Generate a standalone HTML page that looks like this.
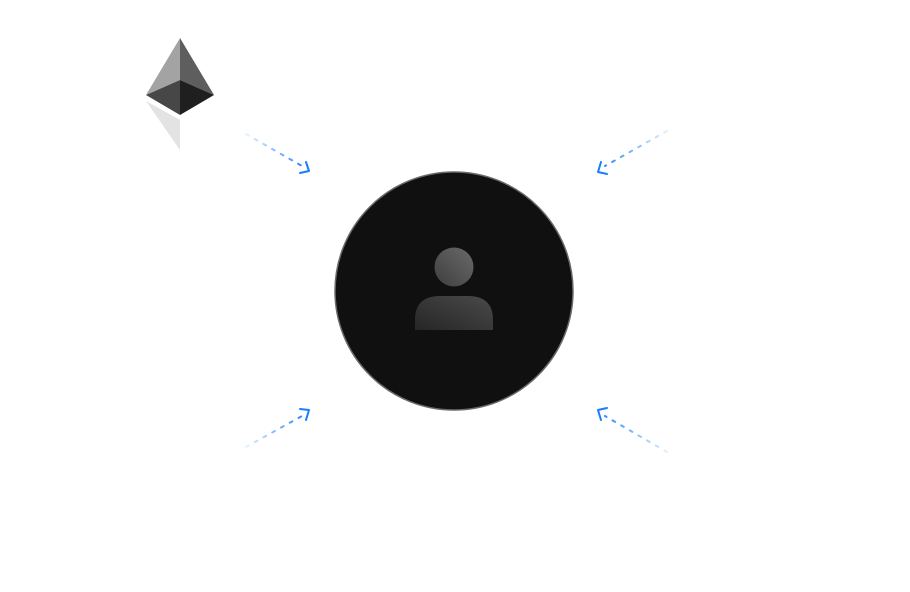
<!DOCTYPE html>
<html><head><meta charset="utf-8"><style>html,body{margin:0;padding:0;background:#fff;width:910px;height:592px;overflow:hidden}</style></head>
<body>
<svg width="910" height="592" viewBox="0 0 910 592" xmlns="http://www.w3.org/2000/svg">
<defs>
<linearGradient id="a1" x1="246" y1="134" x2="308" y2="170" gradientUnits="userSpaceOnUse"><stop offset="0" stop-color="#1a7cff" stop-opacity="0.1"/><stop offset="1" stop-color="#1a7cff"/></linearGradient>
<linearGradient id="a2" x1="668" y1="130" x2="598" y2="170" gradientUnits="userSpaceOnUse"><stop offset="0" stop-color="#1a7cff" stop-opacity="0.1"/><stop offset="1" stop-color="#1a7cff"/></linearGradient>
<linearGradient id="a3" x1="246" y1="448" x2="308" y2="412" gradientUnits="userSpaceOnUse"><stop offset="0" stop-color="#1a7cff" stop-opacity="0.1"/><stop offset="1" stop-color="#1a7cff"/></linearGradient>
<linearGradient id="a4" x1="668" y1="453" x2="598" y2="412" gradientUnits="userSpaceOnUse"><stop offset="0" stop-color="#1a7cff" stop-opacity="0.1"/><stop offset="1" stop-color="#1a7cff"/></linearGradient>
<linearGradient id="head" x1="0" y1="1" x2="1" y2="0"><stop offset="0" stop-color="#3e3e3e"/><stop offset="1" stop-color="#6a6a6a"/></linearGradient>
<linearGradient id="body" x1="0" y1="1" x2="1" y2="0"><stop offset="0" stop-color="#262626"/><stop offset="1" stop-color="#4a4a4a"/></linearGradient>
</defs>
<!-- ethereum -->
<polygon points="180,38 146,95 180,80" fill="#a3a3a3"/>
<polygon points="180,38 214,95 180,80" fill="#5e5e5e"/>
<polygon points="146,95 180,80 180,115" fill="#474747"/>
<polygon points="214,95 180,80 180,115" fill="#1f1f1f"/>
<polygon points="146,101 180,120 180,150" fill="#e3e3e3"/>
<!-- arrows -->
<g fill="none" stroke-width="2" stroke-dasharray="3 7" stroke-linecap="round">
<line x1="246" y1="134" x2="302" y2="166" stroke="url(#a1)"/>
<line x1="667" y1="131" x2="605" y2="166" stroke="url(#a2)"/>
<line x1="246" y1="447" x2="302" y2="416" stroke="url(#a3)"/>
<line x1="667" y1="452" x2="605" y2="416" stroke="url(#a4)"/>
</g>
<g fill="none" stroke="#1a7cff" stroke-width="2" stroke-linecap="round" stroke-linejoin="round">
<polyline points="306,162 309,171 300,173"/>
<polyline points="601,162 598,172 607,174"/>
<polyline points="306,420 309,410 300,409"/>
<polyline points="601,420 598,410 607,408"/>
</g>
<!-- circle -->
<circle cx="454" cy="291" r="119" fill="#101010" stroke="#6a6a6a" stroke-width="1.5"/>
<circle cx="454" cy="267" r="19.5" fill="url(#head)"/>
<path d="M415,330 L415,320 Q415,296 440,296 L468,296 Q493,296 493,320 L493,330 Z" fill="url(#body)"/>
</svg>
</body></html>
